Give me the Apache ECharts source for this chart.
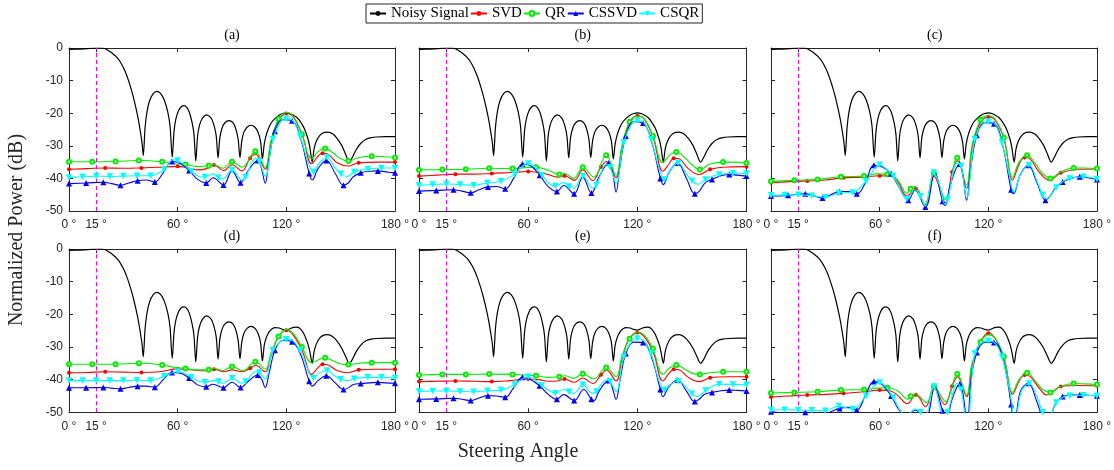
<!DOCTYPE html>
<html>
<head>
<meta charset="utf-8">
<script src="https://cdn.jsdelivr.net/npm/echarts@6/dist/echarts.min.js"></script>
<style>
html,body{margin:0;padding:0;background:#fff;}
#chart{width:1114px;height:470px;}
</style>
</head>
<body>
<div id="chart"></div>
<script>
// ---------------- DATA ----------------
const xTicks = [0, 15, 60, 120, 180];
const yTicks = [0, -10, -20, -30, -40, -50];
const panelTitles = ['(a)', '(b)', '(c)', '(d)', '(e)', '(f)'];
const seriesNames = ['Noisy Signal', 'SVD', 'QR', 'CSSVD', 'CSQR'];
const steeringAngle = 15;
const xAxisTitle = 'Steering Angle';
const yAxisTitle = 'Normalized Power (dB)';

const noisyAngles = [0,4,8,12,15,18,20,22.5,24.5,26.3,28,30,32,34,35.5,37,38.3,39.5,40.3,41,42,43,44.5,46.5,48.5,50.5,52.5,54.5,55.8,57,58,59,60.5,62,63.5,65,66.5,68,69,70,71,72,73.5,76,78.5,80,81.3,82.3,83.3,84.5,86,88.3,90.5,92,93.4,94.4,95.4,96.6,98.3,100.5,102.7,104.5,105.8,106.8,107.8,109,110.5,112,114,116,118,120,122,124,126,128,130,132,133,134.3,135.3,136.5,138.5,141,143,145.5,148,150.5,152.5,154.8,156.5,158.5,161,164,167,170,175,180];
const noisyTop = [-0.4,-0.35,-0.25,-0.1,-0.02,0,-0.25,-1.1,-1.9,-2.8,-4,-6,-8.6,-12,-15,-18.5,-22,-26,-29,-33,-24.5,-19.8,-16.2,-14,-13.3,-13.9,-15.8,-19.5,-24,-33.5,-25.5,-21.8,-19.2,-18,-17.7,-18.2,-19.8,-23,-26.5,-34.6,-27,-23.8,-21.7,-20.5,-21.5,-23.6,-27,-33.7,-27.5,-24.6,-23,-22.3,-22.9,-24.6,-28,-33.6,-28.5,-25.8,-24.3,-23.7,-24.3,-26,-28.8,-34,-29.5,-26.5,-24.2,-22.7,-21.5,-20.6,-20.1,-19.9,-20.1,-20.6,-21.4,-22.8,-24.8,-28,-30.5,-35,-31,-28.7,-26.8,-25.9,-25.8,-26.3,-27.7,-29.8,-32.3,-35,-33.5,-31.3,-29.3,-28,-27.5,-27.3,-27.2,-27.2];
const noisyBottom = [-0.4,-0.35,-0.25,-0.1,-0.02,0,-0.25,-1.1,-1.9,-2.8,-4,-6,-8.6,-12,-15,-18.5,-22,-26,-29,-33,-24.5,-19.8,-16.2,-14,-13.3,-13.9,-15.8,-19.5,-24,-33.5,-25.5,-21.8,-19.2,-18,-17.7,-18.2,-19.8,-23,-26.5,-34.6,-27,-23.8,-21.7,-20.5,-21.5,-23.6,-27,-33.7,-27.5,-24.6,-23,-22.3,-22.9,-24.6,-28,-33.6,-28.5,-25.8,-24.3,-23.7,-24.3,-26,-28.8,-34.3,-29.5,-27,-25.4,-24.5,-24.1,-24.2,-24.6,-24.8,-24.4,-24,-23.9,-24.6,-26.3,-29.2,-31.5,-35,-31.5,-29.2,-27.2,-26.3,-26.2,-26.8,-28.2,-30.3,-32.6,-35,-33.8,-31.5,-29.5,-28.1,-27.6,-27.4,-27.3,-27.3];

// panel (a)
const svd_a = [[0,-37.2],[10,-37],[20,-36.8],[30,-36.9],[40,-36.8],[50,-36.6],[60,-36.3],[66,-36.8],[71,-37.4],[76,-37],[80,-35.9],[85.5,-37.6],[90,-35.8],[95.5,-37.7],[100,-33.8],[103,-32.6],[108.3,-37.2],[111.5,-29],[115,-23],[120,-20.1],[124,-21.3],[129,-27],[134,-35.5],[137.5,-33.2],[140,-32.3],[143,-32.6],[148,-35.2],[154,-36.2],[160,-35.2],[170,-35],[180,-35]];
const qr_a = [[0,-34.9],[12.86,-34.9],[25.71,-34.8],[38.57,-34.5],[51.43,-34.9],[58,-35.5],[64.29,-35.7],[71,-36.4],[77.14,-36.1],[80,-35.8],[85,-36.9],[90,-34.9],[95.5,-36.6],[102.86,-31.7],[108.3,-36.6],[111.5,-28.5],[115.71,-21.8],[120,-19.8],[124,-21],[128.57,-26.5],[134,-34],[137.5,-31.8],[141.43,-30.8],[146,-32.3],[150,-34],[154.29,-34.7],[160,-33.6],[167.14,-33.2],[173,-33.3],[180,-33.6]];
const cssvd_a = [[0,-41.6],[9.47,-41.4],[18.95,-41.2],[23.5,-41.6],[28.42,-42.1],[33,-41.4],[37.89,-40.7],[42.5,-40.5],[47.37,-41.1],[52,-38.3],[56.84,-34.8],[61.5,-35.4],[66.32,-37.6],[71,-40.3],[75.79,-41.4],[79.5,-39.8],[85.26,-42],[90,-37.7],[94.74,-41.3],[99,-37.5],[104.21,-34.5],[106.5,-37.5],[108.3,-41.5],[110.5,-34],[113.68,-25.5],[118,-22],[123.16,-22.3],[128,-28],[132.63,-38.5],[134.3,-40.5],[137.5,-37],[142.11,-34.5],[147,-38.5],[151.58,-42.1],[154,-41.5],[157,-39.5],[161.05,-38.3],[166,-37.8],[170.53,-37.7],[175,-38],[180,-38.3]];
const csqr_a = [[0,-39.7],[7.5,-39.5],[15,-39.3],[22.5,-39.4],[30,-39.3],[37.5,-39.2],[45,-39.2],[52.5,-37.3],[57.5,-34.3],[60,-34.5],[63,-35.5],[67.5,-37.8],[72,-39.5],[75,-39.6],[79.5,-38.6],[82.5,-39.8],[85,-40.2],[90,-37.4],[95.5,-40.5],[97.5,-39.6],[103,-33.8],[105,-34.8],[108.3,-39.3],[112.5,-28],[117,-22.5],[120,-21.7],[123,-22],[127.5,-27],[132,-35],[135,-38],[138,-35.5],[142.5,-33.6],[147,-36.8],[150,-38.6],[153.5,-39.4],[157.5,-38],[162,-37.3],[165,-37.1],[172.5,-36.8],[180,-36.8]];

// panel (b)
const svd_b = [[0,-39.3],[10,-39],[20,-38.7],[30,-38.7],[40,-38.5],[50,-38.2],[60,-37.9],[66,-38.2],[71,-38.8],[76,-39.6],[80,-39.2],[85.5,-40.6],[90,-37.4],[95.5,-40.7],[100,-36.5],[103,-34.8],[108.3,-39.8],[111.5,-31],[115,-24],[120,-20.8],[124,-22],[129,-28],[134,-37.8],[137.5,-35.5],[140,-33.8],[143,-34],[148,-37],[154,-38.8],[160,-37.2],[170,-36.5],[180,-36.4]];
const qr_b = [[0,-37.4],[12.86,-37.3],[25.71,-37.2],[38.57,-36.9],[51.43,-37],[58,-36.7],[64.29,-36.6],[71,-37.5],[77.14,-38.8],[80,-38.5],[85,-40],[90,-36.6],[96,-39.6],[102.86,-32.9],[108.3,-39],[111.5,-30],[115.71,-22.6],[120,-20.9],[124,-21.8],[128.57,-27],[134,-35.2],[137.5,-33],[141.43,-31.9],[146,-33.6],[150,-35.8],[154.29,-37.3],[160,-35.6],[167.14,-35],[173,-35],[180,-35.3]];
const cssvd_b = [[0,-43.9],[9.47,-43.7],[18.95,-43.5],[23.5,-43.9],[28.42,-44.4],[33,-43.5],[37.89,-42.6],[42.5,-42.5],[47.37,-43.2],[52,-40],[56.84,-35.6],[61.5,-36.2],[66.32,-39],[71,-42.5],[75.79,-44],[79.5,-42.2],[85.26,-44.7],[90,-39.6],[94.74,-44.5],[99,-39.5],[104.21,-35.3],[106.5,-38.5],[108.3,-44.2],[110.5,-36],[113.68,-27],[118,-22.6],[123.16,-23],[128,-29],[132.63,-40],[134.3,-41.9],[137.5,-38],[142.11,-35.3],[147,-40],[151.58,-44.7],[154,-44],[157,-41.5],[161.05,-40.3],[166,-39.2],[170.53,-38.8],[175,-39],[180,-39.3]];
const csqr_b = [[0,-42.1],[7.5,-41.9],[15,-41.7],[22.5,-41.9],[30,-42.1],[37.5,-41.4],[45,-40.9],[52.5,-38.7],[60,-35.4],[63,-36.2],[67.5,-39],[72,-41.8],[75,-42.3],[79.5,-41.3],[82.5,-42.5],[85,-43],[90,-39.3],[95.5,-43],[97.5,-42],[103,-35.8],[105,-36.6],[108.3,-41.5],[112.5,-29],[117,-23.2],[120,-22.3],[123,-22.6],[127.5,-28],[132,-37],[135,-40.3],[138,-37.5],[142.5,-35.3],[147,-38.7],[150,-40.7],[153.5,-41.8],[157.5,-40.3],[162,-39.2],[165,-38.8],[172.5,-38.4],[180,-38.5]];

// panel (c)
const svd_c = [[0,-41.3],[10,-41],[20,-40.8],[30,-40.5],[40,-39.8],[50,-39.6],[60,-39.2],[66,-39.3],[70,-41],[75,-45.4],[80,-43.1],[85,-48.6],[90,-39.3],[96.4,-47.5],[100,-38],[103,-34.5],[108,-43],[111,-31],[115,-23.5],[120,-21.1],[124,-22.3],[129,-28.5],[133.4,-40.5],[137,-35.7],[140,-33.6],[143,-34],[148,-38],[153.8,-40.6],[160,-38.3],[170,-37.2],[180,-37.1]];
const qr_c = [[0,-40.9],[12.86,-40.6],[25.71,-40.3],[38.57,-39.5],[51.43,-39.3],[58,-38.6],[64.29,-38.7],[70,-40.5],[75,-44.6],[77.14,-43.2],[79.5,-42.5],[85,-48],[90,-38.5],[96.4,-46.5],[102.86,-33.7],[108,-42],[111,-30],[115.71,-22],[120,-20.8],[124,-22],[128.57,-27.5],[133.4,-39.8],[137,-35],[141.43,-32.9],[146,-35.5],[150,-38.5],[154.29,-40],[160,-38],[167.14,-36.8],[173,-36.8],[180,-37]];
const cssvd_c = [[0,-45.4],[9.47,-45.2],[18.95,-44.7],[23.5,-45.3],[28.42,-46],[33,-45],[37.89,-44],[42.5,-44],[47.37,-44.7],[52,-41.5],[56.84,-36],[61.5,-36.5],[66.32,-38.5],[70.5,-42.5],[75.79,-46.7],[79.5,-43.6],[85.26,-48.8],[90.5,-38.3],[94.74,-47],[96.2,-48.3],[99,-42],[104.21,-35.6],[106,-39],[108,-46.7],[110.5,-36],[113.68,-26.8],[118,-22.9],[123.16,-23.2],[128,-30],[132.63,-43.5],[134,-44.7],[137.5,-39],[142.11,-36],[147,-41.5],[151.58,-46.7],[154,-45.5],[157,-43],[161.05,-41.1],[166,-40],[170.53,-39.5],[175,-39.8],[180,-40.3]];
const csqr_c = [[0,-45.2],[7.5,-45.1],[15,-45],[22.5,-45.3],[30,-45.8],[37.5,-44.5],[45,-44.3],[52.5,-40.8],[60,-35.8],[63,-36.8],[67.5,-39.3],[72,-44],[75,-46.3],[79.5,-43.5],[82.5,-45.5],[85,-48.5],[90,-38.2],[93,-42],[96.2,-48],[97.5,-46.5],[103,-35.3],[105,-36.2],[108,-46],[112.5,-28],[117,-23.3],[120,-22.6],[123,-22.9],[127.5,-29],[132,-40],[134,-44.2],[138,-38.5],[142.5,-35.9],[147,-41],[150,-45],[152,-46.3],[157.5,-42.8],[161.5,-40.8],[165,-40],[172.5,-39.5],[180,-40.2]];

// panel (d)
const svd_d = [[0,-37.9],[10,-37.8],[20,-37.6],[30,-37.7],[40,-37.8],[50,-37.6],[60,-36.7],[66,-36.9],[71,-37.2],[76,-37.3],[80,-36.8],[85.5,-37.6],[90,-37],[95.5,-37.6],[100,-36.5],[103,-35.6],[108.3,-37.6],[111.5,-33],[115,-27.5],[120,-24.9],[124,-26.5],[129,-31.5],[134,-38.4],[137.5,-36.3],[140,-35.3],[143,-35.5],[148,-37.2],[154,-37.9],[160,-37],[170,-36.8],[180,-36.8]];
const qr_d = [[0,-35.3],[12.86,-35.3],[25.71,-35.3],[38.57,-35],[51.43,-35.5],[58,-36.2],[64.29,-36.6],[70,-37],[77.14,-37],[80,-36.6],[85,-37.2],[90,-36],[96,-37.3],[102.86,-34.5],[108.3,-36.8],[111.5,-32],[115.71,-26.8],[120,-24.6],[124,-26],[128.57,-30],[134,-34.8],[137.5,-34],[141.43,-33.3],[146,-34.3],[150,-35.2],[154.29,-35.4],[160,-35],[167.14,-34.8],[173,-34.8],[180,-34.8]];
const cssvd_d = [[0,-42.5],[9.47,-42.5],[18.95,-42.4],[23.5,-42.6],[28.42,-42.8],[33,-42.4],[37.89,-42],[42.5,-42],[47.37,-42.3],[52,-40],[56.84,-37.8],[61.5,-38],[66.32,-39.5],[71,-41.6],[75.79,-42.2],[79.5,-41.4],[85.26,-42.5],[90,-40.8],[94.74,-42.4],[99,-40.5],[104.21,-38.6],[106.5,-40],[108.3,-42.5],[110.5,-38],[113.68,-31],[118,-28],[123.16,-28.4],[128,-32.5],[132.63,-40.5],[134.3,-42],[137.5,-40.3],[142.11,-38.8],[147,-41],[151.58,-43],[154,-42.6],[157,-41.5],[161.05,-41.2],[166,-41],[170.53,-40.8],[175,-41],[180,-41.1]];
const csqr_d = [[0,-40.3],[7.5,-40.3],[15,-40.3],[22.5,-40.3],[30,-40.3],[37.5,-40.2],[45,-40.3],[52.5,-39],[60,-37.5],[63,-37.8],[67.5,-39.3],[72,-40.6],[75,-40.8],[79.5,-40.3],[82.5,-40.6],[85,-41.1],[90,-39.6],[95.5,-41.1],[97.5,-40.6],[103,-37.6],[105,-37.8],[108.3,-39.8],[112.5,-31],[117,-28.3],[120,-27.6],[123,-27.9],[127.5,-31],[132,-37],[135,-39.6],[138,-38],[142.5,-37.2],[147,-39],[150,-39.9],[153.5,-40.3],[157.5,-39.7],[162,-39.4],[165,-39.3],[172.5,-39.3],[180,-39.5]];

// panel (e)
const svd_e = [[0,-40.6],[10,-40.5],[20,-40.4],[30,-40.5],[40,-40.6],[50,-40.3],[60,-39.8],[66,-40],[71,-40.5],[76,-40.4],[80,-39.8],[85.5,-40.8],[90,-39.5],[95.5,-41.2],[100,-38.5],[103,-37],[108.3,-40.4],[111.5,-34],[115,-28],[120,-25.6],[124,-27],[129,-32],[134,-40.4],[137.5,-38],[140,-36.8],[143,-37],[148,-39.3],[154,-40.6],[160,-39.4],[170,-39.1],[180,-39.1]];
const qr_e = [[0,-38.6],[12.86,-38.4],[25.71,-38.4],[38.57,-38.3],[51.43,-38.4],[58,-38.6],[64.29,-38.8],[70,-39.3],[77.14,-39.1],[80,-38.8],[85,-39.6],[90,-38.2],[96,-39.8],[102.86,-36.3],[108.3,-39.1],[111.5,-33],[115.71,-27.5],[120,-25.4],[124,-26.5],[128.57,-30.5],[134,-38.4],[137.5,-36.5],[141.43,-35.5],[146,-36.8],[150,-38],[154.29,-38.4],[160,-37.9],[167.14,-37.6],[173,-37.6],[180,-37.6]];
const cssvd_e = [[0,-46],[9.47,-45.9],[18.95,-45.7],[23.5,-46],[28.42,-46.4],[33,-45.6],[37.89,-44.9],[42.5,-45],[47.37,-45.4],[52,-42.5],[56.84,-39.3],[61.5,-40],[66.32,-41.9],[71,-44.5],[75.79,-46],[79.5,-44.6],[85.26,-46.4],[90.5,-43],[94.74,-46],[96.2,-46.4],[99,-43.5],[104.21,-40.3],[106,-42],[108.3,-46],[110.5,-40],[113.68,-32],[118,-28.5],[123.16,-28.6],[128,-33.5],[132.63,-43],[134,-45.2],[137.5,-42],[142.11,-40.1],[147,-43.5],[151.58,-46.7],[154,-46],[157,-44.5],[161.05,-43.9],[166,-43.4],[170.53,-43.2],[175,-43.3],[180,-43.5]];
const csqr_e = [[0,-43.6],[7.5,-43.5],[15,-43.5],[22.5,-43.6],[30,-43.7],[37.5,-43.4],[45,-43.2],[52.5,-41.5],[60,-39.1],[63,-39.8],[67.5,-41.8],[72,-43.5],[75,-44.2],[79.5,-43],[82.5,-43.7],[85,-44.2],[90,-41.6],[95.5,-44.2],[97.5,-43.6],[103,-40.1],[105,-40.6],[108.3,-43.7],[112.5,-33],[117,-28.2],[120,-27.4],[123,-27.8],[127.5,-32],[132,-40.5],[135,-43.2],[138,-41.5],[142.5,-40.5],[147,-42.5],[150,-44.3],[153,-45.2],[157.5,-43.3],[162,-41.8],[165,-41.4],[172.5,-41.5],[180,-41.6]];

// panel (f)
const svd_f = [[0,-45.3],[10,-45],[20,-44.7],[30,-44.5],[40,-44.2],[50,-43.8],[60,-43.2],[66,-43.5],[70,-44.8],[75.3,-47.4],[80,-44.6],[85.4,-48.3],[90,-42.7],[96,-47.6],[100,-42],[103,-39.1],[108,-45.2],[111,-36],[115,-29],[120,-25.8],[124,-27.5],[129,-34],[133.4,-44.5],[137,-40.5],[140,-38.6],[143,-39],[148,-42.5],[152.3,-44.7],[160,-42.1],[170,-41.8],[180,-41.9]];
const qr_f = [[0,-44.1],[12.86,-43.9],[25.71,-43.7],[38.57,-43.2],[51.43,-43],[58,-42.6],[64.29,-42.5],[70,-43.5],[75.5,-46],[77.14,-45.1],[79.5,-44.4],[86,-47],[90,-42.1],[96.4,-46.7],[102.86,-38.3],[108,-44.7],[111,-35],[115.71,-28.5],[120,-26.3],[124,-27.5],[128.57,-33],[133.4,-43.9],[137,-40],[141.43,-37.9],[146,-40.5],[150,-43],[154.29,-43.9],[160,-42],[167.14,-41.2],[173,-41.3],[180,-41.5]];
const cssvd_f = [[0,-49.8],[9.47,-50.3],[18.95,-50],[23.5,-50.3],[28.42,-50.8],[33,-49.8],[37.89,-48.8],[42.5,-48.5],[47.37,-49.3],[52,-45],[56.84,-40.6],[61.5,-41.5],[66.32,-45],[71,-49.5],[75.79,-51.5],[79.5,-49.3],[85.26,-52],[90.5,-42.3],[94.74,-49.5],[97,-52],[100,-46],[104.21,-41.3],[106.5,-46],[108.3,-56],[110.5,-40],[113.68,-31.7],[118,-28.5],[123.16,-28.6],[128,-33.5],[132.63,-47.6],[134.5,-55],[137.5,-44],[142.11,-41.1],[147,-47],[151.58,-53],[154,-52],[157,-47.5],[161.05,-45.2],[166,-44.7],[170.53,-44.7],[175,-44.8],[180,-44.9]];
const csqr_f = [[0,-49.3],[7.5,-49.2],[15,-49.3],[22.5,-49.4],[30,-49.5],[37.5,-48.1],[45,-49],[52.5,-45],[60,-40.9],[63,-42],[67.5,-45.5],[72,-50],[75,-51],[79.5,-49],[82.5,-50],[85,-51.5],[90,-42.1],[95.5,-51],[97.5,-50],[103,-41.1],[105,-43],[108.3,-55],[112.5,-32],[117,-28.5],[120,-28.2],[123,-28.5],[127.5,-33],[132,-44],[135,-53],[138,-44],[142.5,-41.2],[147,-45.5],[150,-50],[153,-52],[157.5,-47],[162,-45.2],[165,-44.9],[172.5,-44.8],[180,-44.9]];

// ---------------- LAYOUT / STYLE ----------------
const panels = [
  {noisy: noisyTop, svd: svd_a, qr: qr_a, cssvd: cssvd_a, csqr: csqr_a},
  {noisy: noisyTop, svd: svd_b, qr: qr_b, cssvd: cssvd_b, csqr: csqr_b},
  {noisy: noisyTop, svd: svd_c, qr: qr_c, cssvd: cssvd_c, csqr: csqr_c},
  {noisy: noisyBottom, svd: svd_d, qr: qr_d, cssvd: cssvd_d, csqr: csqr_d},
  {noisy: noisyBottom, svd: svd_e, qr: qr_e, cssvd: cssvd_e, csqr: csqr_e},
  {noisy: noisyBottom, svd: svd_f, qr: qr_f, cssvd: cssvd_f, csqr: csqr_f}
];
const gridBoxes = [
  {left: 69, top: 48, width: 326, height: 163},
  {left: 419, top: 48, width: 327.5, height: 163},
  {left: 771, top: 48, width: 327.5, height: 163},
  {left: 69, top: 249, width: 326, height: 163.3},
  {left: 419, top: 249, width: 327.5, height: 163.3},
  {left: 771, top: 249, width: 327.5, height: 163.3}
];
const axisColor = '#262626';
const serif = '"Liberation Serif", "Times New Roman", serif';
const sans = '"Liberation Sans", Arial, sans-serif';
const methodStyle = {
  svd:   {name: seriesNames[1], color: '#ff0000', symbol: 'circle', size: 4, rotate: 0, step: 20},
  qr:    {name: seriesNames[2], color: '#00ee00', symbol: 'emptyCircle', size: 4, rotate: 0, step: 180 / 14},
  cssvd: {name: seriesNames[3], color: '#0000ff', symbol: 'triangle', size: 6, rotate: 0, step: 180 / 19},
  csqr:  {name: seriesNames[4], color: '#00ffff', symbol: 'triangle', size: 6.5, rotate: 180, step: 7.5}
};
function onGrid(x, step) {
  const k = Math.round(x / step);
  return Math.abs(x - k * step) < 0.02;
}

const grid = [], xAxis = [], yAxis = [], series = [];
gridBoxes.forEach((g, i) => {
  grid.push(Object.assign({containLabel: false}, g));
  const baseX = {
    type: 'value', gridIndex: i, min: 0, max: 180,
    splitLine: {show: false},
    axisLine: {show: true, onZero: false, lineStyle: {color: axisColor, width: 1}},
    axisTick: {show: true, inside: true, length: 4, customValues: xTicks, lineStyle: {color: axisColor}}
  };
  xAxis.push(Object.assign({}, baseX, {
    position: 'bottom',
    axisLabel: {show: true, customValues: xTicks, color: axisColor, fontFamily: sans, fontSize: 12, margin: 8,
      formatter: v => v + ' °'}
  }));
  xAxis.push(Object.assign({}, baseX, {position: 'top', axisLabel: {show: false}}));
  const baseY = {
    type: 'value', gridIndex: i, min: -50, max: 0, interval: 10,
    splitLine: {show: false},
    axisLine: {show: true, onZero: false, lineStyle: {color: axisColor, width: 1}},
    axisTick: {show: true, inside: true, length: 4, lineStyle: {color: axisColor}}
  };
  yAxis.push(Object.assign({}, baseY, {
    position: 'left',
    axisLabel: {show: (i % 3 === 0), color: axisColor, fontFamily: sans, fontSize: 12, margin: 6,
      customValues: yTicks}
  }));
  yAxis.push(Object.assign({}, baseY, {position: 'right', axisLabel: {show: false}}));

  const p = panels[i];
  series.push({
    type: 'line', name: seriesNames[0], xAxisIndex: 2 * i, yAxisIndex: 2 * i,
    data: noisyAngles.map((a, k) => [a, p.noisy[k]]),
    showSymbol: false, symbol: 'none', smooth: 0.3, z: 2,
    lineStyle: {color: '#000', width: 1.2}, itemStyle: {color: '#000'},
    markLine: {
      silent: true, symbol: ['none', 'none'], label: {show: false},
      lineStyle: {color: '#ff00ff', type: [4, 3], width: 1},
      data: [{xAxis: steeringAngle}]
    }
  });
  ['svd', 'qr', 'cssvd', 'csqr'].forEach((m, j) => {
    const st = methodStyle[m];
    series.push({
      type: 'line', name: st.name, xAxisIndex: 2 * i, yAxisIndex: 2 * i,
      data: p[m].map(([x, y]) => onGrid(x, st.step) ? [x, y] : {value: [x, y], symbol: 'none'}),
      smooth: 0.4, showSymbol: true, symbol: st.symbol, symbolSize: st.size, symbolRotate: st.rotate,
      z: 3 + j,
      lineStyle: {color: st.color, width: 1.1},
      itemStyle: {color: st.color, borderWidth: 1}
    });
  });
});

const graphic = [];
gridBoxes.forEach((g, i) => {
  graphic.push({
    type: 'text', x: g.left + g.width / 2, y: g.top - 13,
    style: {text: panelTitles[i], fill: '#000', font: '14px ' + serif, align: 'center', verticalAlign: 'middle'}
  });
});
graphic.push({
  type: 'text', x: 518, y: 452,
  style: {text: xAxisTitle, fill: '#262626', font: '20px ' + serif, align: 'center', verticalAlign: 'middle'}
});
graphic.push({
  type: 'text', x: 17, y: 230, rotation: Math.PI / 2,
  style: {text: yAxisTitle, fill: '#262626', font: '20px ' + serif, align: 'center', verticalAlign: 'middle'}
});

const chart = echarts.init(document.getElementById('chart'), null, {renderer: 'canvas'});
chart.setOption({
  animation: false,
  backgroundColor: '#fff',
  legend: {
    data: seriesNames, left: 366, top: 4,
    padding: [2, 3, 2, 3], itemGap: 1, itemWidth: 16, itemHeight: 6,
    borderColor: axisColor, borderWidth: 1, backgroundColor: '#fff',
    textStyle: {fontFamily: serif, fontSize: 15, color: '#000'}
  },
  grid, xAxis, yAxis, series, graphic
});
</script>
</body>
</html>
